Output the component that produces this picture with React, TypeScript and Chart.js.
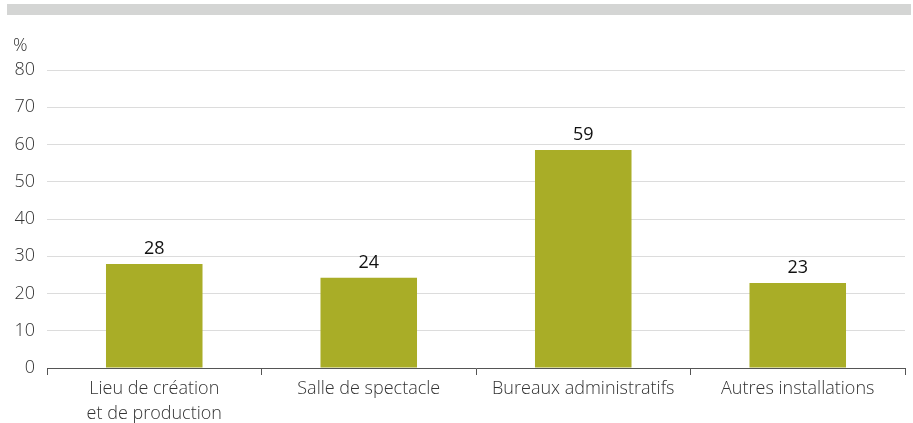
import React, { useEffect, useRef } from "react";
import { Chart, registerables } from "chart.js";

Chart.register(...registerables);

const categories: (string | string[])[] = [
  ["Lieu de création", "et de production"],
  "Salle de spectacle",
  "Bureaux administratifs",
  "Autres installations",
];
const values: number[] = [27.9, 24.2, 58.5, 22.8];
const valueLabels: string[] = ["28", "24", "59", "23"];
const yTicks: number[] = [0, 10, 20, 30, 40, 50, 60, 70, 80];
const unitLabel = "%";

const FONT = "'Open Sans', 'Noto Sans', sans-serif";
const TEXT = "#333333";
const BAR = "#a9ad27";

const decorPlugin = {
  id: "decor",
  beforeDraw(chart: any) {
    const ctx = chart.ctx;
    ctx.save();
    ctx.fillStyle = "#d4d5d4";
    ctx.fillRect(7, 4, 904, 11);
    ctx.fillStyle = TEXT;
    ctx.font = `300 18px ${FONT}`;
    ctx.textBaseline = "middle";
    ctx.textAlign = "left";
    ctx.fillText(unitLabel, 13, 46);
    ctx.restore();
  },
  afterDatasetsDraw(chart: any) {
    const ctx = chart.ctx;
    const meta = chart.getDatasetMeta(0);
    ctx.save();
    ctx.fillStyle = "#111111";
    ctx.font = `18px ${FONT}`;
    ctx.textAlign = "center";
    ctx.textBaseline = "alphabetic";
    meta.data.forEach((bar: any, i: number) => {
      ctx.fillText(valueLabels[i], bar.x, bar.y - 10);
    });
    ctx.restore();
  },
};

export default function App() {
  const ref = useRef<HTMLCanvasElement | null>(null);
  useEffect(() => {
    if (!ref.current) return;
    const chart = new Chart(ref.current, {
      type: "bar",
      data: {
        labels: categories,
        datasets: [
          {
            data: values,
            backgroundColor: BAR,
            borderWidth: 0,
            barPercentage: 0.45,
            categoryPercentage: 1,
          },
        ],
      },
      options: {
        animation: false,
        responsive: false,
        maintainAspectRatio: false,
        layout: { padding: { left: 0, right: 8, top: 70, bottom: 0 } },
        plugins: {
          legend: { display: false },
          tooltip: { enabled: false },
        },
        scales: {
          x: {
            offset: true,
            grid: {
              offset: true,
              drawOnChartArea: false,
              drawTicks: true,
              tickLength: 7,
              color: "#555555",
            },
            border: { display: true, color: "#555555", width: 1 },
            ticks: {
              color: TEXT,
              font: { family: FONT, size: 18, weight: 300, lineHeight: 1.35 },
              padding: 2,
              maxRotation: 0,
              autoSkip: false,
            },
            afterFit: (s: any) => {
              s.height = 55;
            },
          },
          y: {
            min: 0,
            max: 80,
            afterBuildTicks: (s: any) => {
              s.ticks = yTicks.map((v) => ({ value: v }));
            },
            grid: { color: "#dcdcdc", drawTicks: false, lineWidth: 1 },
            border: { display: false },
            ticks: {
              color: TEXT,
              font: { family: FONT, size: 18, weight: 300 },
              padding: 12,
            },
            afterFit: (s: any) => {
              s.width = 47;
            },
          },
        },
      },
      plugins: [decorPlugin],
    });
    return () => chart.destroy();
  }, []);
  return (
    <div style={{ position: "absolute", left: 0, top: 0, width: 913, height: 423 }}>
      <canvas ref={ref} width={913} height={423} style={{ display: "block" }} />
    </div>
  );
}
